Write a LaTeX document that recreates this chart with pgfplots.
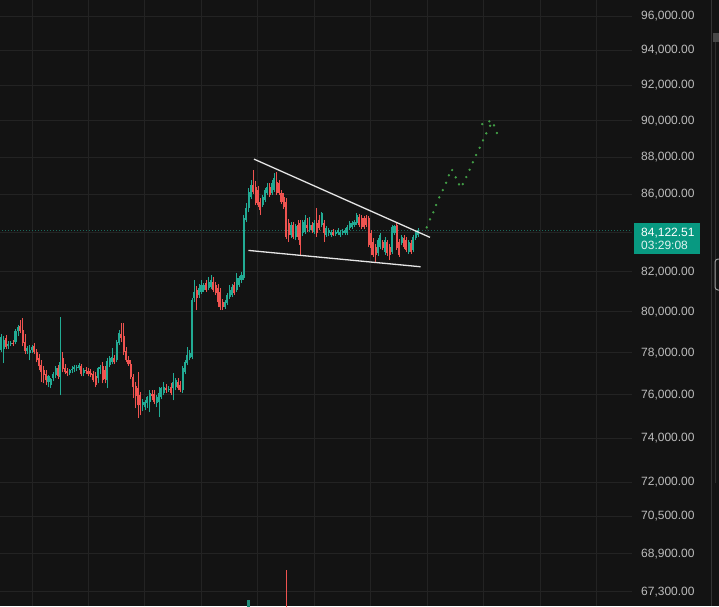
\documentclass[border=0pt]{standalone}
\usepackage{fontspec}
\setmainfont{Liberation Sans}
\usepackage{pgfplots}
\usepackage{pgfplotstable}
\pgfplotsset{compat=1.18}
\definecolor{bg}{HTML}{131313}
\definecolor{gridc}{HTML}{232323}
\definecolor{up}{HTML}{22AB94}
\definecolor{down}{HTML}{EF5350}
\definecolor{lbl}{HTML}{BDBDBD}
\definecolor{proj}{HTML}{43A047}
\definecolor{tagc}{HTML}{089981}

% green candles: index open high low close
\pgfplotstableread{
i o h l c
0 78130 78905 78034 78759
1 78178 78808 77506 78613
3 78323 78565 78178 78420
4 78420 78565 78323 78468
6 78516 79149 78420 79051
7 79051 79345 78808 79247
11 78082 78323 77938 78227
12 77986 78372 77649 78130
13 78130 78372 77986 78275
20 76602 76934 76366 76886
21 76460 76791 76318 76744
22 76791 77076 76649 76981
23 76934 77362 76791 77267
25 76839 79738 75990 77553
29 77029 77219 76934 77171
30 77171 77362 77029 77219
31 77219 77410 77076 77315
32 77267 77410 77124 77315
33 77267 77506 77171 77410
35 77029 77267 76886 77171
41 76791 77315 76554 77267
42 77219 77410 76981 77315
45 76696 77745 76318 77601
46 77410 77842 77315 77745
47 77553 78227 77458 77793
49 77649 78613 77553 78516
50 78468 79100 78372 78954
60 75523 75803 75243 75663
61 75429 75756 75289 75663
62 75616 75943 75383 75896
63 75663 76224 75196 76084
66 75616 75990 75429 75896
67 75663 76366 74965 76084
68 75896 76366 75803 76318
69 76084 76602 75990 76366
71 76224 76413 76130 76271
73 76318 77029 75756 76602
74 76366 76791 76224 76696
77 76224 77362 76084 77267
78 77076 77649 76981 77553
79 77506 78275 77410 77890
80 77745 78130 77649 77986
81 77793 80678 77697 80578
82 80678 81579 80479 80977
84 80828 81378 80678 81177
85 80977 81579 80877 81328
86 81077 81428 80977 81328
88 81177 81731 81077 81479
89 81228 81832 81127 81579
95 80231 80578 80132 80479
96 80429 80927 80330 80828
97 80728 81328 80628 81077
98 80828 81378 80728 81228
100 81077 81933 80977 81680
101 81328 81781 81228 81680
102 81579 81983 81428 81832
103 81680 84919 81579 84762
104 84657 85550 84553 85286
105 85286 86345 85076 86132
106 85867 86772 85761 86505
111 85445 85973 85339 85867
112 85708 86345 85603 86238
113 86079 86612 85973 86398
115 86079 86772 85973 86612
116 86238 87148 86132 86879
123 83877 84553 83721 84396
125 83773 84448 83618 84344
128 83980 84657 83825 84553
129 84032 84919 83928 84657
131 84135 84814 84032 84396
133 84032 84657 83928 84500
136 84396 85076 84292 85024
138 83877 84344 83773 84239
139 83980 84239 83825 84135
140 83877 84135 83773 84032
142 83928 84135 83825 84032
143 83980 84239 83877 84135
144 83877 84135 83773 84032
145 83980 84187 83877 84083
146 83980 84239 83877 84135
147 83980 84396 83877 84292
148 84239 84605 84135 84500
149 84292 84605 84187 84500
150 84396 84657 84292 84553
151 84500 85024 84396 84919
160 82950 83721 82797 83618
161 83258 83980 83155 83877
163 83001 83773 82848 83618
166 83001 84396 82899 84292
167 83980 84396 83877 84344
170 83464 83877 83361 83773
173 83001 83618 82899 83515
175 83103 83877 83001 83773
176 83721 84135 83618 84032
177 83877 84239 83773 84122.51
}\upc

% red candles: index open high low close
\pgfplotstableread{
i o h l c
2 78710 78857 78178 78275
5 78468 78613 78323 78420
8 79296 79590 78954 79051
9 79100 79689 78323 78468
10 78516 78905 77938 78082
14 78323 78468 77938 78034
15 78034 78178 77553 77649
16 77745 77938 77171 77362
17 77410 77649 76602 77076
18 77171 77362 76554 76934
19 76981 77171 76460 76696
24 77267 77410 76744 76886
26 77745 78034 77076 77219
27 77267 77458 76981 77076
28 77124 77267 76886 77029
34 77362 77458 76886 76981
36 77171 77315 76981 77124
37 77124 77267 76886 76981
38 77029 77219 76839 76934
39 76981 77124 76602 76696
40 76886 77076 76366 76460
43 77362 77553 76554 76696
44 77171 77362 76554 76744
48 77745 77890 77458 77553
51 78905 79443 78516 78710
52 78808 79443 77890 78034
53 78082 78275 77553 77649
54 77649 77842 77362 77458
55 77458 77649 76744 76839
56 76839 76981 75850 76366
57 76413 76602 75383 75943
58 76318 77076 74919 75523
59 75990 76130 75058 75523
64 76037 76224 75756 75943
65 76037 76224 75569 75663
70 76318 76507 76084 76224
72 76366 76554 75990 76084
75 76602 76791 76224 76318
76 76460 76649 76130 76224
83 81077 81278 80082 80678
87 81428 81579 80977 81077
90 81479 81731 80977 81077
91 81328 81479 80828 80927
92 81177 81378 80231 80479
93 80977 81177 80082 80231
94 80479 80628 80082 80231
99 81328 81479 80828 80927
107 86505 87309 86026 86132
108 86398 86719 85445 85550
109 86238 86452 85339 85445
110 85603 85814 84919 85181
114 86398 86612 85867 85973
117 86665 87202 85973 86079
118 86612 86772 85973 86079
119 86079 86238 85497 85603
120 85867 86079 85234 85339
121 85603 85814 83670 83773
122 84500 84709 83515 83877
124 84396 84553 83670 83773
126 84396 84657 83618 83773
127 84500 84657 82848 83361
130 84396 84762 84032 84239
132 84396 84553 83980 84135
134 84500 85286 83773 83980
135 84657 84919 84135 84239
137 84500 84657 83515 83980
141 84032 84187 83825 83877
152 84814 84971 84292 84396
153 84762 84919 84187 84292
154 84762 84867 84187 84292
155 84762 84919 84292 84396
156 84762 84867 83258 83361
157 83980 84135 82848 83206
158 83515 83721 82745 82848
159 83258 83412 82490 82848
162 83515 83618 83103 83206
164 83515 83618 82797 82950
165 83258 83412 82592 82848
168 84396 84500 83103 83206
169 83515 83670 82745 82848
171 83721 83877 83155 83258
172 83618 83773 83001 83103
174 83464 83618 82899 83001
}\downc

% projected path (dots)
\pgfplotstableread{
i p
180.7 84276
182.1 84694
183.5 85060
184.7 85445
186.0 85851
187.5 86238
188.9 86628
190.1 87025
191.5 87309
193.0 86917
194.4 86542
196.0 86558
197.5 86933
198.9 87325
200.3 87725
201.7 88122
203.2 88519
204.6 88924
206.0 89309
204.3 89822
207.3 89972
207.6 89728
209.3 89750
210.5 89325
}\projc

% wedge lines
\pgfplotstableread{
i p
107.3 87902
182.1 83757
}\wedgeup
\pgfplotstableread{
i p
104.9 83088
178.1 82252
}\wedgelo
% last price
\pgfplotstableread{
i p
-1 84122.51
268 84122.51
}\lastp
% volume bar tops
\pgfplotstableread{
i v
121 68210
}\volred
\pgfplotstableread{
i v
105 66960
}\volgreen

\begin{document}
\begin{tikzpicture}[x=1pt,y=1pt]
\useasboundingbox (0,0) rectangle (719,606);
\fill[bg] (0,0) rectangle (719,606);
\begin{axis}[
  at={(0pt,0pt)}, anchor=south west,
  scale only axis, width=632pt, height=606pt,
  % price axis drawn on a logarithmic scale: y = ln(price)
  xmin=-0.595, xmax=267.9, ymin=11.10818, ymax=11.48210,
  axis line style={draw=none},
  major tick length=0pt, minor tick num=0,
  xtick={13,37,61,85,109,133,157,181,205,229,253},
  xticklabels={},
  ytick={11.11692,11.14041,11.16337,11.18442,11.21182,11.23849,11.26446,11.28978,11.31447,11.33857,11.36210,11.38509,11.40756,11.42954,11.45105,11.47210},
  yticklabels={{67,300.00},{68,900.00},{70,500.00},{72,000.00},{74,000.00},{76,000.00},{78,000.00},{80,000.00},{82,000.00},{84,000.00},{86,000.00},{88,000.00},{90,000.00},{92,000.00},{94,000.00},{96,000.00}},
  yticklabel pos=right,
  yticklabel style={anchor=west, xshift=9pt, inner sep=0pt, font=\fontsize{12}{14}\selectfont, text=lbl},
  xmajorgrids, ymajorgrids,
  grid style={gridc, line width=1pt},
  clip mode=individual,
]
% last price line
\addplot[forget plot, up!55!bg, line width=1pt, dash pattern=on 1pt off 2pt] table[x=i, y expr=ln(\thisrow{p})] {\lastp};
% volume bars peeking at the bottom
\addplot[draw=none, mark=none, forget plot, error bars/.cd, y dir=plus, y explicit, error mark=none,
  error bar style={draw=down, line width=1.4pt}]
  table[x=i, y expr=11.0, y error expr=ln(\thisrow{v})-11.0] {\volred};
\addplot[draw=none, mark=none, forget plot, error bars/.cd, y dir=plus, y explicit, error mark=none,
  error bar style={draw=up!80!bg, line width=2.2pt}]
  table[x=i, y expr=11.0, y error expr=ln(\thisrow{v})-11.0] {\volgreen};
% wicks
\addplot[draw=none, mark=none, forget plot, error bars/.cd, y dir=plus, y explicit, error mark=none,
  error bar style={draw=up, line width=0.75pt}]
  table[x=i, y expr=ln(\thisrow{l}), y error expr=ln(\thisrow{h})-ln(\thisrow{l})] {\upc};
\addplot[draw=none, mark=none, forget plot, error bars/.cd, y dir=plus, y explicit, error mark=none,
  error bar style={draw=down, line width=0.75pt}]
  table[x=i, y expr=ln(\thisrow{l}), y error expr=ln(\thisrow{h})-ln(\thisrow{l})] {\downc};
% bodies
\addplot[draw=none, mark=none, forget plot, error bars/.cd, y dir=plus, y explicit, error mark=none,
  error bar style={draw=up, line width=2.05pt}]
  table[x=i, y expr=ln(\thisrow{o}), y error expr=ln(\thisrow{c})-ln(\thisrow{o})] {\upc};
\addplot[draw=none, mark=none, forget plot, error bars/.cd, y dir=plus, y explicit, error mark=none,
  error bar style={draw=down, line width=2.05pt}]
  table[x=i, y expr=ln(\thisrow{c}), y error expr=ln(\thisrow{o})-ln(\thisrow{c})] {\downc};
% wedge lines
\addplot[forget plot, white!90!black, line width=1.3pt] table[x=i, y expr=ln(\thisrow{p})] {\wedgeup};
\addplot[forget plot, white!90!black, line width=1.3pt] table[x=i, y expr=ln(\thisrow{p})] {\wedgelo};
% projection
\addplot[forget plot, only marks, mark=*, mark size=0.95pt, proj, mark options={draw=none, fill=proj}]
  table[x=i, y expr=ln(\thisrow{p})] {\projc};
% last price tag
\node[fill=tagc, anchor=north west, inner xsep=7pt, inner ysep=0pt, minimum width=66pt, minimum height=31pt,
  text width=52pt, align=left, font=\fontsize{12}{13.5}\selectfont, text=white, xshift=2pt, yshift=7pt]
  at (axis cs:267.9,11.340029) {84,122.51\\\textcolor{white!88!tagc}{03:29:08}};
\end{axis}
% right-hand side panel edge
\draw[color=black!80!white, line width=1pt] (711,0) -- (711,606);
\fill[black!72!white] (713,564) rectangle (719,573);
\draw[color=black!82!white, line width=1pt] (715.5,123) -- (715.5,564);
\draw[color=black!40!white, line width=1pt, rounded corners=3pt] (715,316) rectangle (726,347);
\end{tikzpicture}
\end{document}
